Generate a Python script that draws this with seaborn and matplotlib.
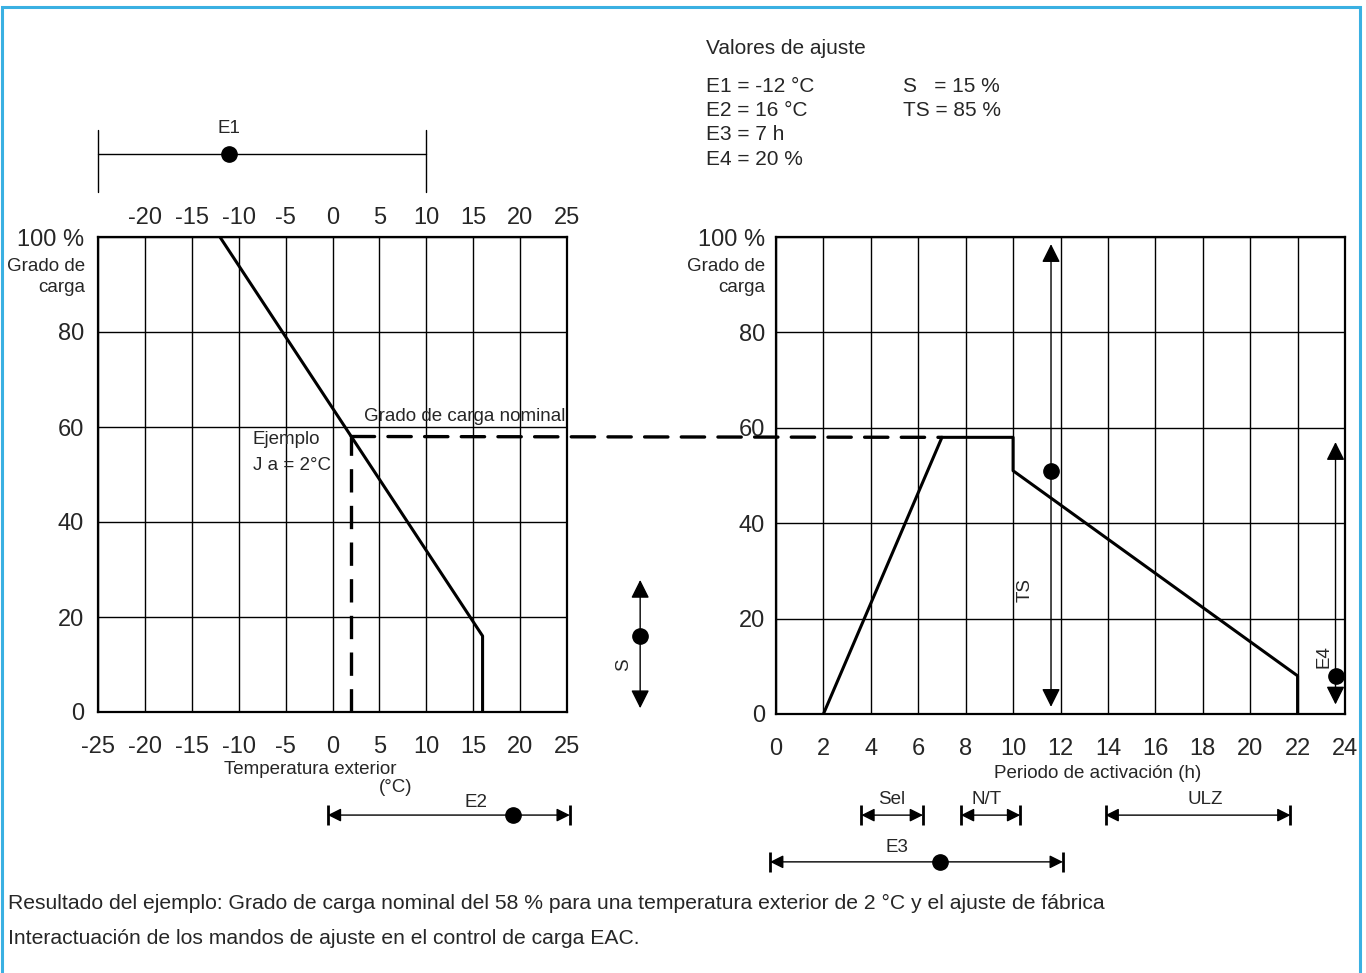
import numpy as np
import pandas as pd
import seaborn as sns
import matplotlib.pyplot as plt
from matplotlib.patches import ConnectionPatch, Rectangle

# curva de carga vs temperatura exterior (grafico izquierdo)
temp_x = [-12, 16, 16]
temp_carga = [100, 16, 0]

# curva de carga vs periodo de activacion (grafico derecho)
hora_x = [2, 7, 10, 10, 22, 22]
hora_carga = [0, 58, 58, 51, 8, 0]

ejemplo_temp = 2
ejemplo_carga = 58
ejemplo_hora = 7

temp_ticks = [-25, -20, -15, -10, -5, 0, 5, 10, 15, 20, 25]
hora_ticks = list(range(0, 25, 2))
carga_ticks = [0, 20, 40, 60, 80, 100]
carga_labels = ["0", "20", "40", "60", "80", "100 %"]

# mandos de ajuste (rango y posicion del punto)
e1_rango, e1_punto = [-25, 10], -11
e2_rango, e2_punto = [-0.5, 25.3], 19.2
s_rango, s_punto = [0.8, 27.8], 16
ts_rango, ts_punto = [1.5, 98.5], 51
e4_rango, e4_punto = [2, 57], 8
e3_rango, e3_punto = [-0.25, 12.1], 6.9
sel_rango = [3.6, 6.2]
nt_rango = [7.8, 10.3]
ulz_rango = [13.9, 21.7]

sns.set_style("white")
plt.rcParams["font.family"] = ["Liberation Sans", "DejaVu Sans"]
plt.rcParams["axes.unicode_minus"] = False

W, H = 1366, 973
fig = plt.figure(figsize=(W / 100, H / 100), dpi=100)


def fx(px):
    return px / W


def fy(py):
    return 1 - py / H


ax1 = fig.add_axes([fx(98), fy(712), fx(567) - fx(98), fy(237) - fy(712)])
ax2 = fig.add_axes([fx(776), fy(714), fx(1345) - fx(776), fy(237) - fy(714)])

df1 = pd.DataFrame({"temp": temp_x, "carga": temp_carga})
df2 = pd.DataFrame({"hora": hora_x, "carga": hora_carga})
sns.lineplot(data=df1, x="temp", y="carga", ax=ax1, color="black", lw=2.2,
             sort=False, estimator=None)
sns.lineplot(data=df2, x="hora", y="carga", ax=ax2, color="black", lw=2.2,
             sort=False, estimator=None)

for ax, xt in [(ax1, temp_ticks), (ax2, hora_ticks)]:
    ax.set_xlim(xt[0], xt[-1])
    ax.set_ylim(0, 100)
    ax.set_xticks(xt)
    ax.set_yticks(carga_ticks)
    ax.set_yticklabels(carga_labels)
    ax.grid(True, color="black", lw=1.0)
    ax.set_xlabel("")
    ax.set_ylabel("")
    for sp in ax.spines.values():
        sp.set_color("black")
        sp.set_linewidth(1.6)
    ax.tick_params(length=0, labelsize=17)
ax1.tick_params(axis="x", pad=17)
ax1.tick_params(axis="y", pad=10)
ax2.tick_params(axis="x", pad=17)
ax2.tick_params(axis="y", pad=8)

top = ax1.secondary_xaxis("top")
top.set_xticks(temp_ticks[1:])
top.tick_params(length=0, labelsize=17, pad=6)
top.spines["top"].set_visible(False)

# linea de ejemplo discontinua
dash = dict(color="black", lw=2.4, dashes=(7, 4))
ax1.plot([ejemplo_temp, ejemplo_temp], [0, ejemplo_carga], **dash)
con = ConnectionPatch(xyA=(ejemplo_temp, ejemplo_carga), coordsA=ax1.transData,
                      xyB=(ejemplo_hora, ejemplo_carga), coordsB=ax2.transData,
                      color="black", lw=2.4, linestyle=(0, (7, 4)))
fig.add_artist(con)

ax1.text(3.4, 62.3, "Grado de carga nominal", fontsize=13.5, va="center", ha="left")
ax1.text(-8.5, 57.3, "Ejemplo", fontsize=13.5, va="center", ha="left")
ax1.text(-8.5, 51.8, "J a = 2°C", fontsize=13.5, va="center", ha="left")


def flecha(ax, p0, p1, ms=28):
    ax.annotate("", xy=p1, xytext=p0, annotation_clip=False,
                arrowprops=dict(arrowstyle="<|-|>", color="black", lw=1.0,
                                mutation_scale=ms, shrinkA=0, shrinkB=0))


def punto(ax, x, y):
    ax.plot([x], [y], "o", color="black", ms=11, clip_on=False, zorder=5)


# S (entre los graficos)
flecha(ax1, (32.8, s_rango[0]), (32.8, s_rango[1]))
punto(ax1, 32.8, s_punto)
ax1.text(31.0, 10, "S", rotation=90, fontsize=13.5, ha="center", va="center")

# TS y E4 (grafico derecho)
flecha(ax2, (11.6, ts_rango[0]), (11.6, ts_rango[1]))
punto(ax2, 11.6, ts_punto)
ax2.text(10.5, 26, "TS", rotation=90, fontsize=13.5, ha="center", va="center")
flecha(ax2, (23.6, e4_rango[0]), (23.6, e4_rango[1]))
punto(ax2, 23.6, e4_punto)
ax2.text(23.1, 12, "E4", rotation=90, fontsize=13.5, ha="center", va="center")

# E1 encima del grafico izquierdo
ax1.plot(e1_rango, [117.5, 117.5], color="black", lw=1.0, clip_on=False)
for xv in e1_rango:
    ax1.plot([xv, xv], [109.5, 122.5], color="black", lw=1.0, clip_on=False)
punto(ax1, e1_punto, 117.5)
ax1.text(e1_punto, 122.8, "E1", fontsize=13.5, ha="center", va="center")


def escala(ax, rango, y, etiqueta, xlab, ylab, pt=None):
    flecha(ax, (rango[0], y), (rango[1], y), ms=20)
    for xv in rango:
        ax.plot([xv], [y], "|", color="black", ms=14, mew=2, clip_on=False)
    if pt is not None:
        punto(ax, pt, y)
    ax.text(xlab, ylab, etiqueta, fontsize=13.5, ha="center", va="center")


escala(ax1, e2_rango, -21.7, "E2", 15.3, -19, e2_punto)
escala(ax2, sel_rango, -21.2, "Sel", 4.9, -18)
escala(ax2, nt_rango, -21.2, "N/T", 8.9, -18)
escala(ax2, ulz_rango, -21.2, "ULZ", 18.1, -18)
escala(ax2, e3_rango, -31, "E3", 5.1, -28, e3_punto)

# textos de ejes
fig.text(fx(85), fy(277), "Grado de\ncarga", ha="right", va="center", fontsize=13.5, linespacing=1.25)
fig.text(fx(765), fy(277), "Grado de\ncarga", ha="right", va="center", fontsize=13.5, linespacing=1.25)
fig.text(fx(310), fy(769), "Temperatura exterior", ha="center", va="center", fontsize=13.5)
fig.text(fx(396), fy(787), "(°C)", ha="center", va="center", fontsize=13.5)
fig.text(fx(1098), fy(774), "Periodo de activación (h)", ha="center", va="center", fontsize=13.5)

# valores de ajuste
fig.text(fx(706), fy(48), "Valores de ajuste", ha="left", va="center", fontsize=15)
izq = ["E1 = -12 °C", "E2 = 16 °C", "E3 = 7 h", "E4 = 20 %"]
der = ["S   = 15 %", "TS = 85 %"]
for i, t in enumerate(izq):
    fig.text(fx(706), fy(86 + 24.5 * i), t, ha="left", va="center", fontsize=15)
for i, t in enumerate(der):
    fig.text(fx(903), fy(86 + 24.5 * i), t, ha="left", va="center", fontsize=15)

fig.text(fx(8), fy(903), "Resultado del ejemplo: Grado de carga nominal del 58 % para una temperatura exterior de 2 °C y el ajuste de fábrica",
         ha="left", va="center", fontsize=15.2)
fig.text(fx(8), fy(938), "Interactuación de los mandos de ajuste en el control de carga EAC.",
         ha="left", va="center", fontsize=15.2)

# marco azul
fig.add_artist(Rectangle((fx(1.5), fy(1000)), fx(1360) - fx(1.5), fy(7) - fy(1000),
                         transform=fig.transFigure, fill=False, ec="#3AB0E2", lw=2.2))

fig.savefig("out.png", dpi=100)
